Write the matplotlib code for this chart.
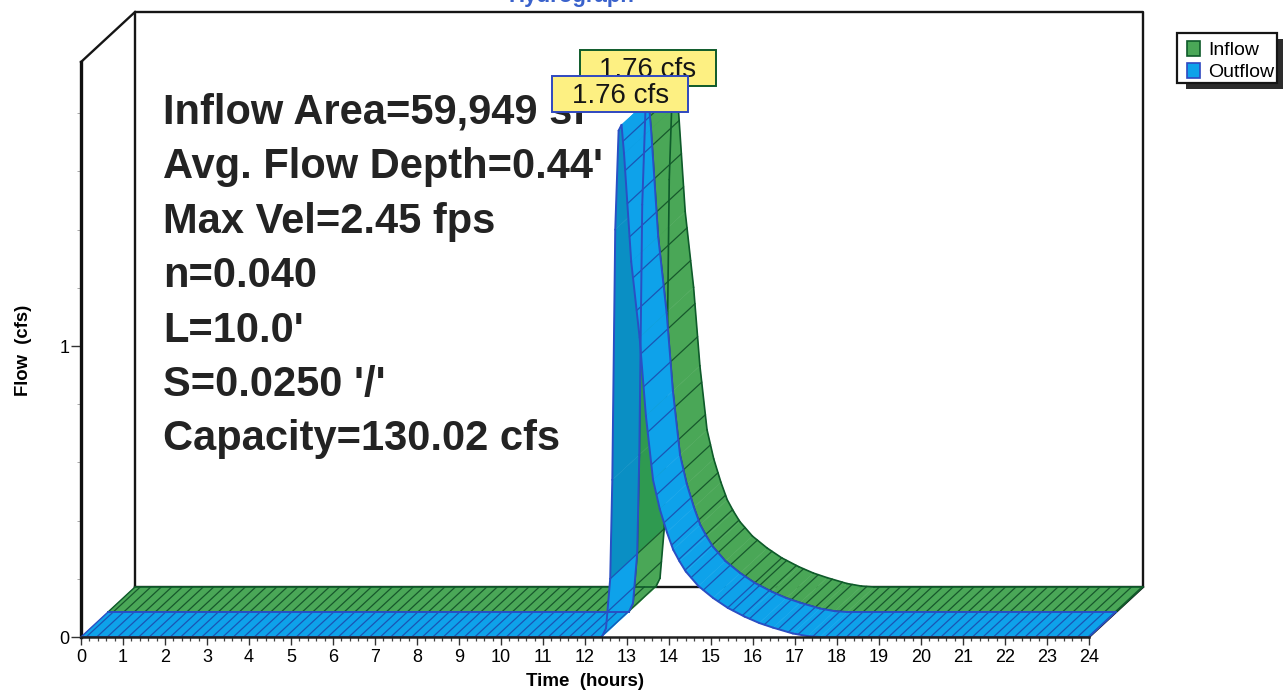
import numpy as np
import matplotlib
matplotlib.use("Agg")
import matplotlib.pyplot as plt
from matplotlib.patches import Polygon, Rectangle, Patch

plt.rcParams['font.family'] = ['Liberation Sans', 'DejaVu Sans']

# ---- data ----
time_hours = [0, 12.4, 12.5, 12.6, 12.65, 12.72, 12.8, 12.87, 12.93, 13.1, 13.3, 13.45, 13.62,
              13.78, 13.95, 14.1, 14.25, 14.4, 14.7, 15.05, 15.4, 15.8, 16.15, 16.48, 16.95,
              17.3, 17.6, 24]
inflow_cfs = [0, 0, .03, .2, .54, 1.40, 1.74, 1.76, 1.66, 1.29, 1.03, .76, .54,
              .44, .36, .30, .26, .225, .175, .134, .10, .07, .048, .032, .012,
              .003, 0, 0]
outflow_cfs = list(inflow_cfs)
peak_inflow = 1.76
peak_outflow = 1.76
x_ticks = list(range(25))
y_ticks = [0, 1]
y_minor = [.2, .4, .6, .8, 1.2, 1.4, 1.6, 1.8]
x_minor = [i / 5 for i in range(121)]
notes = ["Inflow Area=59,949 sf", "Avg. Flow Depth=0.44'", "Max Vel=2.45 fps", "n=0.040",
         "L=10.0'", "S=0.0250 '/'", "Capacity=130.02 cfs"]
title = "Hydrograph"

# ---- layout ----
W, H = 1284, 690
PX_X = 1008 / 24       # px per hour
PX_Y = 291.0           # px per cfs
DX, DY = 27 / PX_X, 25 / PX_Y   # depth step of the pseudo-3D ribbons
Y_MAX = 575 / PX_Y
BLUE, BLUE_D, BLUE_E, BLUE_H = '#0ea2ea', '#0a8fc4', '#2a4fc4', '#1a55b4'
GREEN, GREEN_D, GREEN_E, GREEN_H = '#4aa757', '#2f9a50', '#0e5a2a', '#17582c'

fig = plt.figure(figsize=(W / 100, H / 100), dpi=100, facecolor='white')
ax = fig.add_axes([81 / W, (H - 637) / H, 1008 / W, 575 / H])
ax.set_xlim(0, 24)
ax.set_ylim(0, Y_MAX)
ax.patch.set_alpha(0)

for s in ('top', 'right'):
    ax.spines[s].set_visible(False)
ax.spines['left'].set_linewidth(2.4)
ax.spines['bottom'].set_linewidth(1.8)
ax.spines['left'].set_color('#101010')
ax.spines['bottom'].set_color('#202020')
ax.spines['left'].set_zorder(3)
ax.spines['bottom'].set_zorder(30)

ax.set_xticks(x_ticks)
ax.set_yticks(y_ticks)
ax.set_xticks(x_minor, minor=True)
ax.set_yticks(y_minor, minor=True)
ax.tick_params(axis='x', which='major', length=6, width=1, labelsize=13, pad=3, color='#333333')
ax.tick_params(axis='x', which='minor', length=3, width=0.9, color='#444444')
ax.tick_params(axis='y', which='major', length=7, width=1, labelsize=13, pad=1.5, color='#333333')
ax.tick_params(axis='y', which='minor', length=3, width=0.7, color='#aaaaaa')
ax.set_xlabel("Time  (hours)", fontsize=13.5, fontweight='bold', labelpad=4.5)
ax.set_ylabel("Flow  (cfs)", fontsize=13.3, fontweight='bold')
ax.yaxis.set_label_coords(-49 / 1008, (637 - 350) / 575)

# back wall and connecting edges
wall = dict(color='#151515', lw=1.7, clip_on=False, zorder=1)
bx0, bx1 = 2 * DX, 24 + 2 * DX
by0, by1 = 2 * DY, Y_MAX + 2 * DY
ax.plot([bx0, bx0, bx1, bx1, bx0], [by0, by1, by1, by0, by0], **wall)
ax.plot([0, bx0], [Y_MAX, by1], **wall)
ax.plot([24, bx1], [0, by0], **wall)


def ribbon(t, q, level, face, dark, edge, hatch, z, elw):
    t = np.asarray(t, float) + level * DX
    q = np.asarray(q, float) + level * DY
    back_t, back_q = t + DX, q + DY
    slopes = np.diff(q) / np.diff(t)
    rising = [i for i, s in enumerate(slopes) if s > 3]
    other = [i for i, s in enumerate(slopes) if s <= 3]
    for i in rising + other:
        col = dark if i in rising else face
        ax.add_patch(Polygon([(t[i], q[i]), (t[i + 1], q[i + 1]),
                              (back_t[i + 1], back_q[i + 1]), (back_t[i], back_q[i])],
                             closed=True, fc=col, ec=col, lw=0.3, clip_on=False, zorder=z))
        # hatch lines walked along the curve: wider apart where it is steep
        if i in other:
            p0 = np.array([t[i] * PX_X, q[i] * PX_Y])
            p1 = np.array([t[i + 1] * PX_X, q[i + 1] * PX_Y])
            seg = np.linalg.norm(p1 - p0)
            sin = abs(p1[1] - p0[1]) / seg
            step = 10.5 + 23 * sin ** 5
            d = step * 0.5
            while d < seg:
                f = d / seg
                xh = t[i] + f * (t[i + 1] - t[i])
                yh = q[i] + f * (q[i + 1] - q[i])
                ax.plot([xh, xh + DX], [yh, yh + DY], color=hatch, lw=0.9,
                        clip_on=False, zorder=z + 0.1)
                d += step
        ax.plot([t[i], t[i + 1]], [q[i], q[i + 1]], color=edge, lw=elw, clip_on=False,
                zorder=z + 0.2, solid_capstyle='round')
        ax.plot([back_t[i], back_t[i + 1]], [back_q[i], back_q[i + 1]], color=edge, lw=elw,
                clip_on=False, zorder=z + 0.2, solid_capstyle='round')
        z += 0.001
    ax.plot([t[0], back_t[0]], [q[0], back_q[0]], color=edge, lw=1, clip_on=False, zorder=z + 0.2)
    ax.plot([t[-1], back_t[-1]], [q[-1], back_q[-1]], color=edge, lw=1, clip_on=False, zorder=z + 0.2)


ribbon(time_hours, inflow_cfs, 1, GREEN, GREEN_D, GREEN_E, GREEN_H, 5, 1.2)
ribbon(time_hours, outflow_cfs, 0, BLUE, BLUE_D, BLUE_E, BLUE_H, 10, 1.4)

# peak labels
t_pk = time_hours[int(np.argmax(outflow_cfs))]
box_w, box_h = 136 / PX_X, 36 / PX_Y
for cx, cy, val, ec, z in [(t_pk + 0.63, peak_inflow + 0.196, peak_inflow, GREEN_E, 20),
                           (t_pk - 0.03, peak_outflow + 0.106, peak_outflow, '#2f48c0', 22)]:
    ax.add_patch(Rectangle((cx - box_w / 2, cy - box_h / 2), box_w, box_h, fc='#fdf082', ec=ec,
                           lw=1.4, clip_on=False, zorder=z))
    ax.text(cx, cy - 2 / PX_Y, f"{val:.2f} cfs", fontsize=20, ha='center', va='center',
            color='#151515', zorder=z + 0.5, clip_on=False)

# big annotation block, behind the ribbons and labels
for i, line in enumerate(notes):
    ax.text(163 / W, 1 - (113 + i * 54.4) / H, line, fontsize=30, fontweight='bold', ha='left',
            va='center', color='#232323', zorder=4, transform=fig.transFigure, clip_on=False)

# title, cropped by the top edge as in the reference
fig.text(571 / W, 1 - 2 / H, title, fontsize=16, fontweight='bold', color='#3a62cc',
         ha='center', va='baseline')

# legend with its drop shadow and frame
fig.add_artist(Rectangle((1186 / W, 1 - 89 / H), 97 / W, 50 / H, transform=fig.transFigure,
                         fc='#2c2c2c', ec='none', zorder=1))
fig.add_artist(Rectangle((1177 / W, 1 - 83 / H), 100 / W, 50 / H, transform=fig.transFigure,
                         fc='white', ec='#151515', lw=1.6, zorder=2))
handles = [Patch(fc=GREEN, ec=GREEN_E, lw=1.2, label='Inflow'),
           Patch(fc=BLUE, ec='#2f48c0', lw=1.2, label='Outflow')]
leg = fig.legend(handles=handles, loc='upper left', bbox_to_anchor=(1187 / W, 1 - 41 / H),
                 fontsize=14, frameon=False, borderpad=0, labelspacing=0.2, handlelength=0.68,
                 handleheight=0.8, handletextpad=0.42, borderaxespad=0)
leg.set_zorder(3)

fig.savefig('out.png', dpi=100)
